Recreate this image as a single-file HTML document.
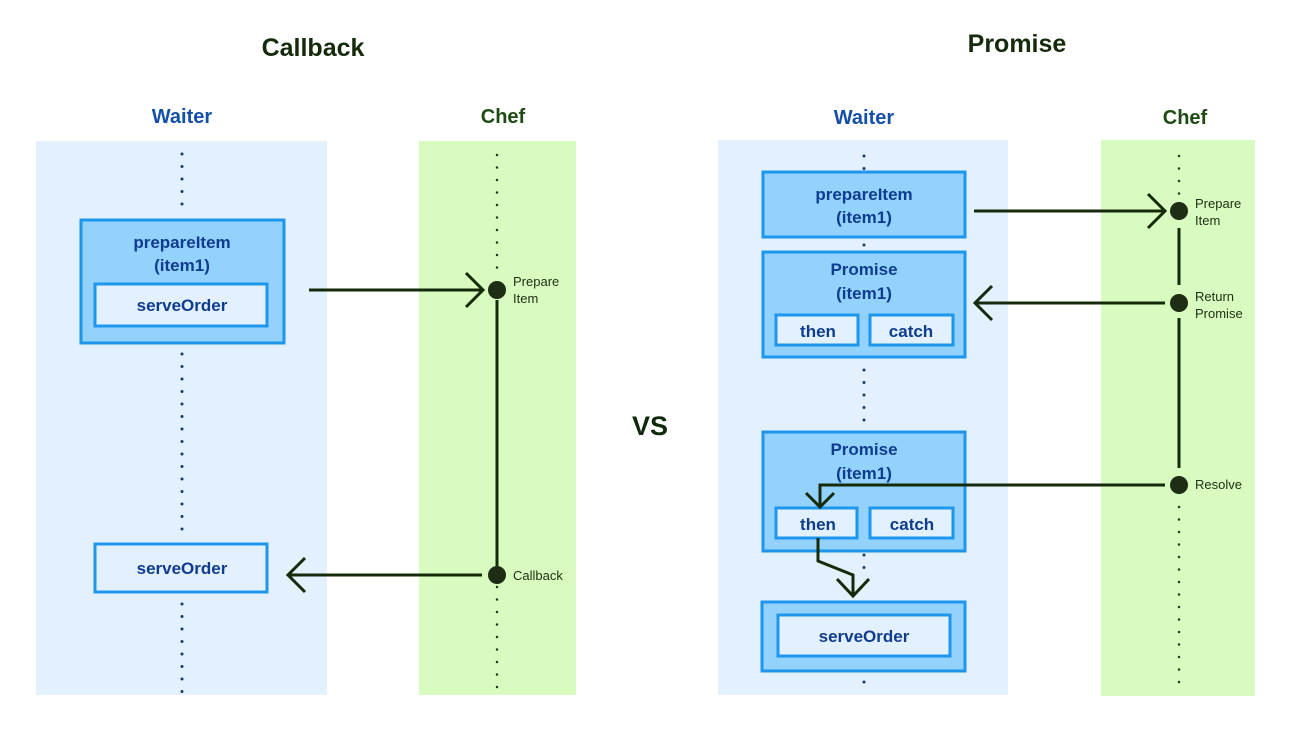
<!DOCTYPE html>
<html><head><meta charset="utf-8"><style>
html,body{margin:0;padding:0;background:#fff;}
svg{display:block;}
text{font-family:"Liberation Sans",sans-serif;font-weight:bold;}
text.n{font-weight:normal;}
</style></head><body>
<svg width="1298" height="735" viewBox="0 0 1298 735" xmlns="http://www.w3.org/2000/svg">
<rect x="36" y="141" width="291" height="554" fill="#e2f1fd"/>
<rect x="419" y="141" width="157" height="554" fill="#d8fcbf"/>
<rect x="718" y="140" width="290" height="555" fill="#e2f1fd"/>
<rect x="1101" y="140" width="154" height="556" fill="#d8fcbf"/>

<text x="313" y="56" font-size="25" text-anchor="middle" fill="#142a0a">Callback</text>
<text x="1017" y="52" font-size="25" text-anchor="middle" fill="#142a0a">Promise</text>
<text x="650" y="435" font-size="27" text-anchor="middle" fill="#0f2a0a">VS</text>
<text x="182" y="123" font-size="20" text-anchor="middle" fill="#1550a8">Waiter</text>
<text x="503" y="123" font-size="20" text-anchor="middle" fill="#1f4a14">Chef</text>
<text x="864" y="124" font-size="20" text-anchor="middle" fill="#1550a8">Waiter</text>
<text x="1185" y="124" font-size="20" text-anchor="middle" fill="#1f4a14">Chef</text>

<g stroke="#1a3a6a" stroke-width="3" stroke-linecap="round" stroke-dasharray="0 12.5" fill="none">
<line x1="182" y1="154" x2="182" y2="215"/>
<line x1="182" y1="354" x2="182" y2="540"/>
<line x1="182" y1="604" x2="182" y2="693"/>
<line x1="864" y1="156" x2="864" y2="170"/>
<line x1="864" y1="245" x2="864" y2="248"/>
<line x1="864" y1="370" x2="864" y2="428"/>
<line x1="864" y1="555" x2="864" y2="570"/>
<line x1="864" y1="682" x2="864" y2="685"/>
</g>
<g stroke="#203a20" stroke-width="2.5" stroke-linecap="round" stroke-dasharray="0 12.5" fill="none">
<line x1="497" y1="155" x2="497" y2="280"/>
<line x1="497" y1="587" x2="497" y2="690"/>
<line x1="1179" y1="156" x2="1179" y2="198"/>
<line x1="1179" y1="507" x2="1179" y2="690"/>
</g>

<g stroke="#1e96ec" stroke-width="3">
<rect x="81" y="220" width="203" height="123" fill="#92d2fc"/>
<rect x="95" y="284" width="172" height="42" fill="#e2f1fd"/>
<rect x="95" y="544" width="172" height="48" fill="#e2f1fd"/>
<rect x="763" y="172" width="202" height="65" fill="#92d2fc"/>
<rect x="763" y="252" width="202" height="105" fill="#92d2fc"/>
<rect x="776" y="315" width="82" height="30" fill="#e2f1fd"/>
<rect x="870" y="315" width="83" height="30" fill="#e2f1fd"/>
<rect x="763" y="432" width="202" height="119" fill="#92d2fc"/>
<rect x="776" y="508" width="81" height="30" fill="#e2f1fd"/>
<rect x="870" y="508" width="83" height="30" fill="#e2f1fd"/>
<rect x="762" y="602" width="203" height="69" fill="#92d2fc"/>
<rect x="778" y="615" width="172" height="41" fill="#e2f1fd"/>
</g>
<g fill="#0f3c8e" font-size="17" text-anchor="middle">
<text x="182" y="248">prepareItem</text>
<text x="182" y="271">(item1)</text>
<text x="182" y="311">serveOrder</text>
<text x="182" y="574">serveOrder</text>
<text x="864" y="200">prepareItem</text>
<text x="864" y="223">(item1)</text>
<text x="864" y="275">Promise</text>
<text x="864" y="299">(item1)</text>
<text x="818" y="337">then</text>
<text x="911" y="337">catch</text>
<text x="864" y="455">Promise</text>
<text x="864" y="479">(item1)</text>
<text x="818" y="530">then</text>
<text x="912" y="530">catch</text>
<text x="864" y="642">serveOrder</text>
</g>

<g stroke="#142a0a" stroke-width="3" fill="none">
<line x1="497" y1="300" x2="497" y2="566"/>
<line x1="1179" y1="228" x2="1179" y2="285"/>
<line x1="1179" y1="318" x2="1179" y2="468"/>
<line x1="309" y1="290" x2="482" y2="290"/>
<polyline points="466,273 483,290 466,307"/>
<line x1="482" y1="575" x2="289" y2="575"/>
<polyline points="305,558 288,575 305,592"/>
<line x1="974" y1="211" x2="1164" y2="211"/>
<polyline points="1148,194 1165,211 1148,228"/>
<line x1="1165" y1="303" x2="975" y2="303"/>
<polyline points="992,286 975,303 992,320"/>
<polyline points="1165,485 820,485 820,507"/>
<polyline points="806,493 820,507 834,493"/>
<polyline points="818,538 818,561 853,575 853,594"/>
<polyline points="837,579 853,596 869,579"/>
</g>
<g fill="#1e2e14">
<circle cx="497" cy="290" r="9"/>
<circle cx="497" cy="575" r="9"/>
<circle cx="1179" cy="211" r="9"/>
<circle cx="1179" cy="303" r="9"/>
<circle cx="1179" cy="485" r="9"/>
</g>
<g fill="#1e2e14" font-size="13">
<text class="n" style="font-weight:normal" x="513" y="286">Prepare</text>
<text class="n" style="font-weight:normal" x="513" y="303">Item</text>
<text class="n" style="font-weight:normal" x="513" y="580">Callback</text>
<text class="n" style="font-weight:normal" x="1195" y="208">Prepare</text>
<text class="n" style="font-weight:normal" x="1195" y="225">Item</text>
<text class="n" style="font-weight:normal" x="1195" y="301">Return</text>
<text class="n" style="font-weight:normal" x="1195" y="318">Promise</text>
<text class="n" style="font-weight:normal" x="1195" y="489">Resolve</text>
</g>
</svg>
</body></html>
